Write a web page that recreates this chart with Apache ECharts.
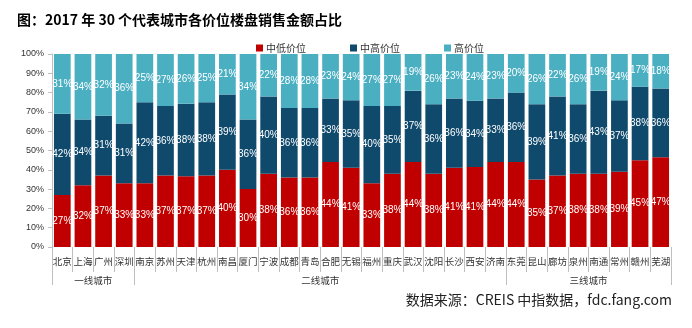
<!DOCTYPE html>
<html><head><meta charset="utf-8">
<script src="https://cdn.jsdelivr.net/npm/echarts@6/dist/echarts.min.js"></script>
<style>html,body{margin:0;padding:0;background:#fff}#c{width:692px;height:328px}</style>
</head><body><div id="c"></div>
<script>
const cities = ['北京','上海','广州','深圳','南京','苏州','天津','杭州','南昌','厦门','宁波','成都','青岛','合肥','无锡','福州','重庆','武汉','沈阳','长沙','西安','济南','东莞','昆山','廊坊','泉州','南通','常州','赣州','芜湖'];
const lowMid  = [27,32,37,33,33,37,37,37,40,30,38,36,36,44,41,33,38,44,38,41,41,44,44,35,37,38,38,39,45,47];
const midHigh = [42,34,31,31,42,36,38,38,39,36,40,36,36,33,35,40,35,37,36,36,34,33,36,39,41,36,43,37,38,36];
const high    = [31,34,32,36,25,27,26,25,21,34,22,28,28,23,24,27,27,19,26,23,24,23,20,26,22,26,19,24,17,18];
const seriesNames = ['中低价位','中高价位','高价位'];
const groups = ['一线城市','二线城市','三线城市'];
const groupSizes = [4,18,8];
const yTicks = [0,10,20,30,40,50,60,70,80,90,100];

const raw = [lowMid, midHigh, high];
const totals = cities.map((_, i) => lowMid[i] + midHigh[i] + high[i]);
const colors = ['#C00000','#0F4A6D','#4BAFC2'];

// group boundaries & centres (in boundary-index units)
const bounds = [0]; groupSizes.forEach(s => bounds.push(bounds[bounds.length-1] + s));
const centres = {}; groups.forEach((g, k) => { centres[(bounds[k] + bounds[k+1]) / 2] = g; });
const boundaryCats = Array.from({length: cities.length + 1}, (_, i) => String(i));

const chart = echarts.init(document.getElementById('c'), null, {renderer: 'canvas'});
chart.setOption({
  animation: false,
  title: {
    text: '图：2017 年 30 个代表城市各价位楼盘销售金额占比',
    left: 12, top: 8,
    textStyle: {fontSize: 14, fontWeight: 'bold', color: '#000', fontFamily: 'Noto Sans CJK SC'}
  },
  legend: {
    data: seriesNames, left: 251, top: 38,
    itemWidth: 7, itemHeight: 7, itemGap: 44, icon: 'rect',
    textStyle: {fontSize: 10, color: '#333', fontFamily: 'Noto Sans CJK SC', padding: [0,0,0,-2]}
  },
  grid: {left: 52, right: 21, top: 54, bottom: 81},
  xAxis: [{
    type: 'category', data: cities, position: 'bottom',
    axisLine: {show: false},
    axisTick: {show: true, length: 25, interval: 0, lineStyle: {color: '#bfbfbf'}},
    axisLabel: {interval: 0, fontSize: 9.5, color: '#333', margin: 10, fontFamily: 'Noto Sans CJK SC'}
  }, {
    type: 'category', data: boundaryCats, boundaryGap: false, position: 'bottom',
    axisLine: {show: false},
    axisTick: {show: true, length: 38, lineStyle: {color: '#bfbfbf'},
      interval: (i) => bounds.indexOf(i) >= 0},
    axisLabel: {interval: 0, fontSize: 9.5, color: '#333', margin: 29, fontFamily: 'Noto Sans CJK SC',
      formatter: (v, i) => centres[i] || ''}
  }],
  yAxis: {
    type: 'value', min: yTicks[0], max: yTicks[yTicks.length-1], interval: 10,
    axisLine: {show: true, lineStyle: {color: '#bfbfbf'}},
    axisTick: {show: true, length: 4, lineStyle: {color: '#bfbfbf'}},
    splitLine: {show: false},
    axisLabel: {formatter: '{value}%', fontSize: 9, color: '#333', margin: 8, fontFamily: 'Liberation Sans'}
  },
  series: raw.map((arr, k) => ({
    name: seriesNames[k], type: 'bar', stack: 'total', xAxisIndex: 0,
    barCategoryGap: '19%',
    itemStyle: {color: colors[k]},
    data: arr.map((v, i) => ({value: v / totals[i] * 100, raw: v})),
    label: {show: true, position: 'inside', color: '#fff', fontSize: 10,
      fontFamily: 'Liberation Sans',
      formatter: (p) => p.data.raw + '%'}
  }))
  ,
  graphic: [{
    type: 'text', right: 20, bottom: 21,
    style: {text: '数据来源：CREIS 中指数据，fdc.fang.com', fontSize: 14, fill: '#222', fontFamily: 'Noto Sans CJK SC'}
  }]
});
</script></body></html>
